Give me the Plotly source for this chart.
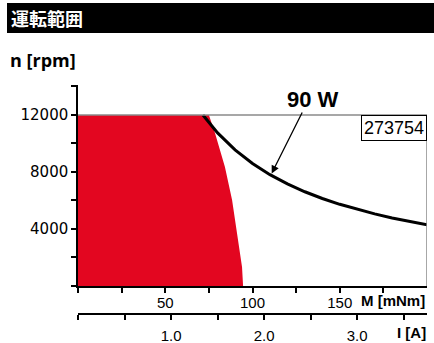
import plotly.graph_objects as go

# operating range data
curve_torque = [71.6, 80, 90, 100, 110, 120, 130, 140, 150, 160, 170, 180, 190, 200]
curve_speed = [12000, 10740, 9550, 8590, 7810, 7160, 6610, 6140, 5730, 5370, 5060, 4770, 4520, 4300]

cont_torque = [0, 0, 75, 78.5, 84.2, 88.3, 91.1, 94.0, 94.6]
cont_speed = [0, 12000, 12000, 10740, 8350, 6035, 3720, 1330, 0]

speed_ticks = [0, 2000, 4000, 6000, 8000, 10000, 12000, 14000]
speed_labels = ["", "", "4000", "", "8000", "", "12000", ""]
torque_ticks = [0, 25, 50, 75, 100, 125, 150, 175]
torque_labels = ["", "", "50", "", "100", "", "150", ""]
current_ticks = [0, 0.5, 1.0, 1.5, 2.0, 2.5, 3.0, 3.5]
current_labels = ["", "", "1.0", "", "2.0", "", "3.0", ""]

N_MAX = 12000
M_MAX = 200
I_MAX = 3.75
arrow_tip = (111, 7900)
arrow_tail = (128.9, 12280)

W, H = 434, 343
L, R, T, B = 78, 427, 85, 313  # plot area in px


def px(x):
    return (x - L) / (R - L)


def py(y):
    return (B - y) / (B - T)


RED = "#e30620"
GRAY = "#8a8a8a"

fig = go.Figure()

# continuous operation area
fig.add_trace(go.Scatter(
    x=cont_torque, y=cont_speed, mode="lines", fill="toself",
    fillcolor=RED, line=dict(width=0), hoverinfo="skip", showlegend=False
))

# frame lines
fig.add_shape(type="line", xref="x", yref="y", x0=0, y0=N_MAX, x1=M_MAX, y1=N_MAX,
              line=dict(color=GRAY, width=1.5))
fig.add_shape(type="line", xref="x", yref="y", x0=M_MAX, y0=N_MAX, x1=M_MAX, y1=0,
              line=dict(color=GRAY, width=1.5))

# 90 W power limit
fig.add_trace(go.Scatter(
    x=curve_torque, y=curve_speed, mode="lines",
    line=dict(color="black", width=3), hoverinfo="skip", showlegend=False
))

# dummy trace so the current axis is drawn
fig.add_trace(go.Scatter(
    x=[0, I_MAX], y=[0, 1], xaxis="x2", yaxis="y2", mode="markers",
    marker=dict(opacity=0), hoverinfo="skip", showlegend=False
))

tick_font = dict(family="Liberation Sans, Arial", size=15, color="black")
axis_common = dict(
    ticks="outside", ticklen=5, tickwidth=1.5, tickcolor="black",
    showline=True, linecolor="black", linewidth=1.5,
    showgrid=False, zeroline=False, automargin=False,
)

fig.update_layout(
    template="none",
    width=W, height=H,
    margin=dict(l=L, r=W - R, t=T, b=H - B, autoexpand=False),
    plot_bgcolor="white", paper_bgcolor="white",
    xaxis=dict(
        range=[0, M_MAX], domain=[0, 1], anchor="y",
        tickvals=torque_ticks, ticktext=torque_labels,
        tickfont=tick_font, ticklabelstandoff=-3, **axis_common,
    ),
    yaxis=dict(
        range=[0, 14100], domain=[py(286), 1],
        tickvals=speed_ticks, ticktext=speed_labels,
        tickfont=dict(family="DejaVu Sans", size=15, color="black"),
        **axis_common,
    ),
    xaxis2=dict(
        range=[0, I_MAX], domain=[0, 1], anchor="y2",
        tickvals=current_ticks, ticktext=current_labels,
        tickfont=tick_font, ticklabelstandoff=3, **axis_common,
    ),
    yaxis2=dict(domain=[0, 0.01], visible=False, range=[0, 1]),
)

# title bar
fig.add_shape(type="rect", xref="paper", yref="paper",
              x0=px(7), x1=px(434), y0=py(33), y1=py(3),
              fillcolor="black", line=dict(width=0), layer="below")

fig.add_annotation(
    text="<b>運転範囲</b>", xref="paper", yref="paper", x=px(9), y=py(18),
    xanchor="left", yanchor="middle", showarrow=False,
    font=dict(family="Noto Sans CJK JP", size=18, color="white"),
)
fig.add_annotation(
    text="<b>n [rpm]</b>", xref="paper", yref="paper", x=px(8), y=py(60),
    xanchor="left", yanchor="middle", showarrow=False,
    font=dict(family="Open Sans", size=18, color="black"),
)
fig.add_annotation(
    text="<b>M [mNm]</b>", xref="paper", yref="paper", x=1, y=py(300),
    xanchor="right", yanchor="middle", showarrow=False,
    font=dict(family="Liberation Sans, Arial", size=15, color="black"),
)
fig.add_annotation(
    text="<b>I [A]</b>", xref="paper", yref="paper", x=1, y=py(342),
    xanchor="right", yanchor="bottom", showarrow=False, borderpad=0,
    font=dict(family="Liberation Sans, Arial", size=15, color="black"),
)

# 273754 box
fig.add_annotation(
    text="273754", xref="x", yref="y", x=M_MAX, y=N_MAX,
    xanchor="right", yanchor="top", showarrow=False,
    bordercolor="black", borderwidth=1, borderpad=2, bgcolor="white",
    font=dict(family="Liberation Sans, Arial", size=18, color="black"),
)

# 90 W label + arrow
fig.add_annotation(
    x=arrow_tip[0], y=arrow_tip[1], ax=arrow_tail[0], ay=arrow_tail[1],
    xref="x", yref="y", axref="x", ayref="y", text="",
    showarrow=True, arrowhead=2, arrowsize=1.2, arrowwidth=1.3, arrowcolor="black",
)
fig.add_annotation(
    text="<b>90 W</b>", xref="paper", yref="paper", x=px(313), y=py(99),
    xanchor="center", yanchor="middle", showarrow=False,
    font=dict(family="Liberation Sans, Arial", size=22, color="black"),
)

fig.write_html("out.html", config={"displayModeBar": False},
               post_script="document.body.style.margin='0px';")
